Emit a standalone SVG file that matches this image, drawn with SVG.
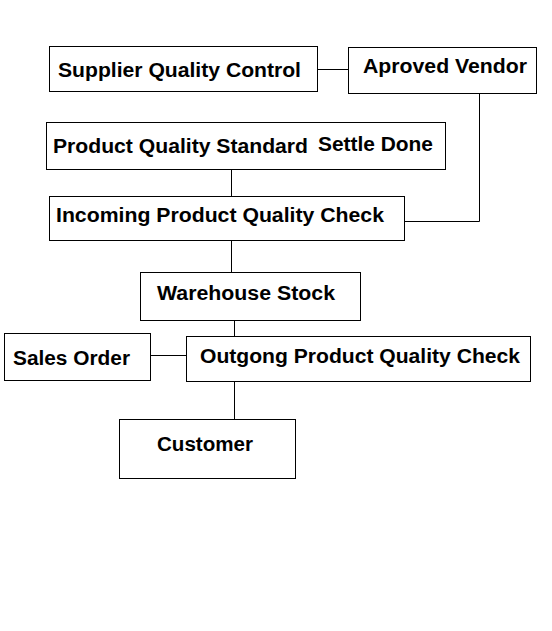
<svg xmlns="http://www.w3.org/2000/svg" width="552" height="631" viewBox="0 0 552 631">
<style>
rect{fill:#fff;stroke:#000;stroke-width:1}
text{font-family:"Liberation Sans",Arial,sans-serif;font-weight:bold;font-size:19.5px;fill:#000}
.c line, .c path{stroke:#000;stroke-width:1;fill:none}
</style>
<rect x="0" y="0" width="552" height="631" style="stroke:none"/>
<g class="c" id="connectors">
<line x1="318" y1="69.5" x2="348" y2="69.5"/>
<path d="M479.5 93 V221.5 H405"/>
<line x1="231.5" y1="169" x2="231.5" y2="196"/>
<line x1="231.5" y1="240" x2="231.5" y2="272"/>
<line x1="234.5" y1="320" x2="234.5" y2="336"/>
<line x1="150" y1="355.5" x2="186" y2="355.5"/>
<line x1="234.5" y1="381" x2="234.5" y2="419"/>
</g>
<g id="supplier"><rect x="49.5" y="46.5" width="268" height="45"/><text x="58" y="77" textLength="243" lengthAdjust="spacingAndGlyphs">Supplier Quality Control</text></g>
<g id="vendor"><rect x="348.5" y="47.5" width="188" height="46"/><text x="363" y="73" textLength="164" lengthAdjust="spacingAndGlyphs">Aproved Vendor</text></g>
<g id="standard"><rect x="46.5" y="122.5" width="399" height="47"/><text x="53" y="153" textLength="255" lengthAdjust="spacingAndGlyphs">Product Quality Standard</text><text x="318" y="151" textLength="115" lengthAdjust="spacingAndGlyphs">Settle Done</text></g>
<g id="incoming"><rect x="49.5" y="196.5" width="355" height="44"/><text x="56" y="222" textLength="328" lengthAdjust="spacingAndGlyphs">Incoming Product Quality Check</text></g>
<g id="warehouse"><rect x="140.5" y="272.5" width="220" height="48"/><text x="157" y="300" textLength="178" lengthAdjust="spacingAndGlyphs">Warehouse Stock</text></g>
<g id="sales"><rect x="4.5" y="333.5" width="146" height="47"/><text x="13" y="365" textLength="117" lengthAdjust="spacingAndGlyphs">Sales Order</text></g>
<g id="outgoing"><rect x="186.5" y="336.5" width="344" height="45"/><text x="200" y="363" textLength="320" lengthAdjust="spacingAndGlyphs">Outgong Product Quality Check</text></g>
<g id="customer"><rect x="119.5" y="419.5" width="176" height="59"/><text x="157" y="451" textLength="96" lengthAdjust="spacingAndGlyphs">Customer</text></g>
</svg>
